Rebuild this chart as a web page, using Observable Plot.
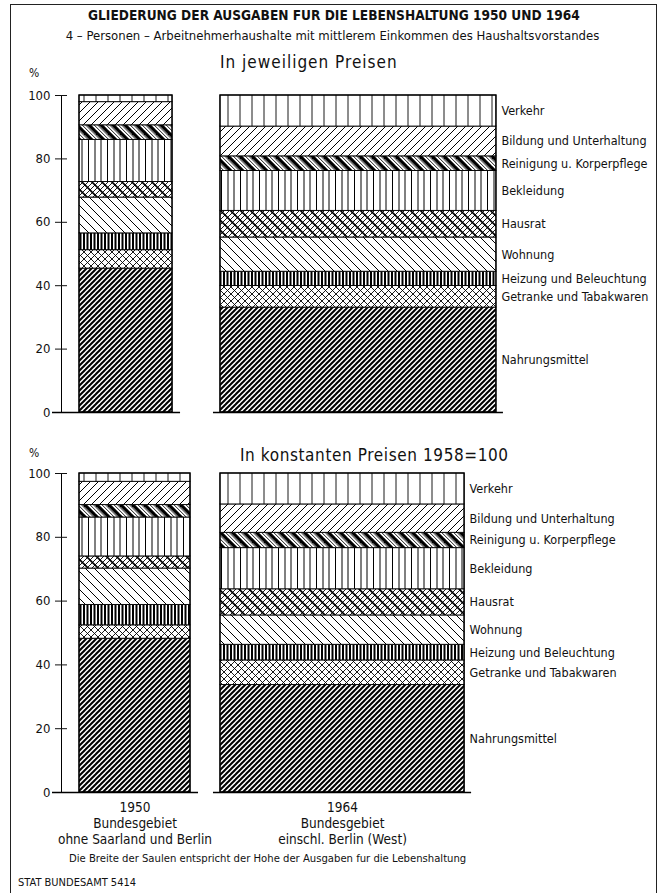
<!DOCTYPE html>
<html><head><meta charset="utf-8">
<script src="https://cdn.jsdelivr.net/npm/d3@7"></script>
<script src="https://cdn.jsdelivr.net/npm/@observablehq/plot@0.6"></script>
<style>
body{margin:0;background:#fff;}
#page{position:relative;width:664px;height:893px;overflow:hidden;background:#fff;font-family:"Liberation Sans Narrow","DejaVu Sans Condensed","Roboto",sans-serif;color:#111;}
.abs{position:absolute;white-space:nowrap;line-height:1;}
</style></head>
<body><div id="page"></div>
<script>
// ---------- data ----------
const categories = ["Nahrungsmittel","Getranke und Tabakwaren","Heizung und Beleuchtung","Wohnung","Hausrat","Bekleidung","Reinigung u. Korperpflege","Bildung und Unterhaltung","Verkehr"];
const years = ["1950","1964"];
// percentage shares (bottom to top)
const share1950Current = [45.4, 5.8, 5.3, 11.3, 4.9, 13.3, 4.6, 7.3, 2.1];
const share1964Current = [33.1, 6.8, 4.5, 10.8, 8.4, 12.6, 4.6, 9.4, 9.8];
const share1950Constant = [48.2, 4.2, 6.4, 11.4, 3.8, 12.2, 3.9, 7.3, 2.6];
const share1964Constant = [33.7, 7.7, 4.9, 9.2, 8.2, 12.9, 4.8, 8.9, 9.7];
// expenditure level (width of the columns), DM per month
const spendingCurrent = [295, 875];
const spendingConstant = [352, 774];
const yTicks = [0, 20, 40, 60, 80, 100];
const barLabels = ["1950\nBundesgebiet\nohne Saarland und Berlin", "1964\nBundesgebiet\neinschl. Berlin (West)"];

// ---------- layout ----------
const BAR_START = [0, 447];
const FONT = '"Liberation Sans Narrow","DejaVu Sans Condensed",sans-serif';
const page = document.getElementById("page");

// ---------- patterns ----------
const patternSpecs = [
  {T:5,   lines:[{t:"s",o:0,w:2.0}]},                                   // Nahrungsmittel
  {T:7,   lines:[{t:"s",o:0,w:0.9},{t:"b",o:0,w:0.9}]},                 // Getränke
  {T:7,   lines:[{t:"v",o:0,w:2.0},{t:"v",o:3.5,w:2.0}]},               // Heizung
  {T:9,   lines:[{t:"b",o:0,w:1.0}]},                                   // Wohnung
  {T:10,  lines:[{t:"s",o:0,w:0.9},{t:"s",o:5,w:0.9},{t:"b",o:0,w:1.6}]}, // Hausrat
  {T:19,  lines:[{t:"v",o:0,w:1.0},{t:"v",o:6,w:1.0},{t:"v",o:12.5,w:1.0}]}, // Bekleidung
  {T:12,  lines:[{t:"b",o:0,w:3.2},{t:"b",o:5.2,w:0.9},{t:"b",o:8.6,w:0.9}]}, // Reinigung
  {T:8,   lines:[{t:"s",o:0,w:1.0}]},                                   // Bildung
  {T:12,  lines:[{t:"v",o:0,w:0.9}]}                                    // Verkehr
];
const defsSvg = d3.select(page).append("svg").attr("width",0).attr("height",0)
  .style("position","absolute").style("left",0).style("top",0);
const defs = defsSvg.append("defs");
patternSpecs.forEach((p, i) => {
  const pat = defs.append("pattern").attr("id", "pat" + i)
    .attr("patternUnits","userSpaceOnUse").attr("width", p.T).attr("height", p.T);
  pat.append("rect").attr("width", p.T).attr("height", p.T).attr("fill", "#fff");
  const T = p.T;
  p.lines.forEach(l => {
    for (let k = -2; k <= 2; k++) {
      const c = l.o + k * T;
      let x1, y1, x2, y2;
      if (l.t === "v") { x1 = c; x2 = c; y1 = -1; y2 = T + 1; }
      else if (l.t === "s") { x1 = c + T + 2; y1 = -T - 2; x2 = -T - 2; y2 = c + T + 2; }
      else { x1 = c - T - 2; y1 = -T - 2; x2 = c + 2 * T + 2; y2 = 2 * T + 2; }
      pat.append("line").attr("x1",x1).attr("y1",y1).attr("x2",x2).attr("y2",y2)
        .attr("stroke","#000").attr("stroke-width", l.w);
    }
  });
});

// ---------- helpers ----------
function buildRows(sharesByYear, spending) {
  const rows = [];
  sharesByYear.forEach((arr, i) => {
    let acc = 0;
    arr.forEach((v, j) => {
      rows.push({year: years[i], cat: categories[j], x1: BAR_START[i], x2: BAR_START[i] + spending[i], y1: acc, y2: acc + v, mid: acc + v / 2});
      acc += v;
    });
  });
  return rows;
}
function buildBars(spending) {
  return years.map((y, i) => ({year: y, x1: BAR_START[i], x2: BAR_START[i] + spending[i], label: barLabels[i]}));
}

function panel(rows, bars, {top, height, marginTop, marginBottom, withLabels}) {
  const marks = [
    Plot.rect(rows, {x1: "x1", x2: "x2", y1: "y1", y2: "y2", fill: "cat", stroke: "#000", strokeWidth: 0.9}),
    Plot.rect(bars, {x1: "x1", x2: "x2", y1: 0, y2: 100, fill: "none", stroke: "#000", strokeWidth: 1.3}),
    Plot.frame({anchor: "left", stroke: "#000", strokeWidth: 1}),
    Plot.axisY({ticks: yTicks, tickSize: 12, dx: 6, tickPadding: 5, label: null, fontSize: 13, tickFormat: d => d}),
    Plot.ruleY(bars.filter(d => d.year === "1950"), {x1: "x1", x2: "x2", y: 0, insetLeft: -27, insetRight: -8, stroke: "#000", strokeWidth: 1.6}),
    Plot.ruleY(bars.filter(d => d.year === "1964"), {x1: "x1", x2: "x2", y: 0, insetLeft: -7, insetRight: -7, stroke: "#000", strokeWidth: 1.6}),
    Plot.text(rows.filter(d => d.year === "1964"), {x: "x2", y: "mid", text: "cat", textAnchor: "start", dx: 5, fontSize: 12.5, fill: "#111"})
  ];
  if (withLabels) {
    marks.push(Plot.text(bars, {x: d => (d.x1 + d.x2) / 2, y: 0, text: "label", lineAnchor: "top", dy: 8, fontSize: 13.5, lineHeight: 1.18, fill: "#111"}));
  }
  const svg = Plot.plot({
    width: 664, height, marginLeft: 61, marginRight: 17, marginTop, marginBottom,
    x: {domain: [0, 1800], range: [79, 646.7], axis: null},
    y: {domain: [0, 100], axis: null},
    color: {type: "ordinal", domain: categories, range: categories.map((_, i) => `url(#pat${i})`)},
    style: {fontFamily: FONT, background: "transparent", color: "#111", overflow: "visible"},
    marks
  });
  svg.style.position = "absolute";
  svg.style.left = "0px";
  svg.style.top = top + "px";
  page.appendChild(svg);
}

// ---------- frame & texts ----------
function addText(txt, css) {
  const d = document.createElement("div");
  d.className = "abs";
  d.textContent = txt;
  Object.assign(d.style, css);
  page.appendChild(d);
  return d;
}
const border = document.createElement("div");
Object.assign(border.style, {position: "absolute", left: "10px", top: "4px", width: "645px", height: "960px", border: "1.5px solid #222"});
page.appendChild(border);

addText("GLIEDERUNG DER AUSGABEN FUR DIE LEBENSHALTUNG 1950 UND 1964", {left: "88px", width: "490px", textAlign: "center", top: "9px", fontSize: "13.6px", fontWeight: "bold"});
addText("4 – Personen – Arbeitnehmerhaushalte mit mittlerem Einkommen des Haushaltsvorstandes", {left: "60px", width: "545px", textAlign: "center", top: "29px", fontSize: "13px"});
addText("In jeweiligen Preisen", {left: "220px", top: "54px", fontSize: "17px", letterSpacing: "1px"});
addText("%", {left: "29px", top: "67px", fontSize: "12px"});
addText("In konstanten Preisen 1958=100", {left: "240px", top: "447px", fontSize: "17px", letterSpacing: "0.6px"});
addText("%", {left: "29px", top: "447px", fontSize: "12px"});
addText("Die Breite der Saulen entspricht der Hohe der Ausgaben fur die Lebenshaltung", {left: "69px", top: "853px", fontSize: "11.2px"});
addText("STAT BUNDESAMT 5414", {left: "18px", top: "877px", fontSize: "11px"});

// ---------- panels ----------
panel(buildRows([share1950Current, share1964Current], spendingCurrent), buildBars(spendingCurrent),
  {top: 0, height: 425, marginTop: 95, marginBottom: 13, withLabels: false});
panel(buildRows([share1950Constant, share1964Constant], spendingConstant), buildBars(spendingConstant),
  {top: 420, height: 440, marginTop: 53, marginBottom: 68, withLabels: true});
</script>
</body></html>
